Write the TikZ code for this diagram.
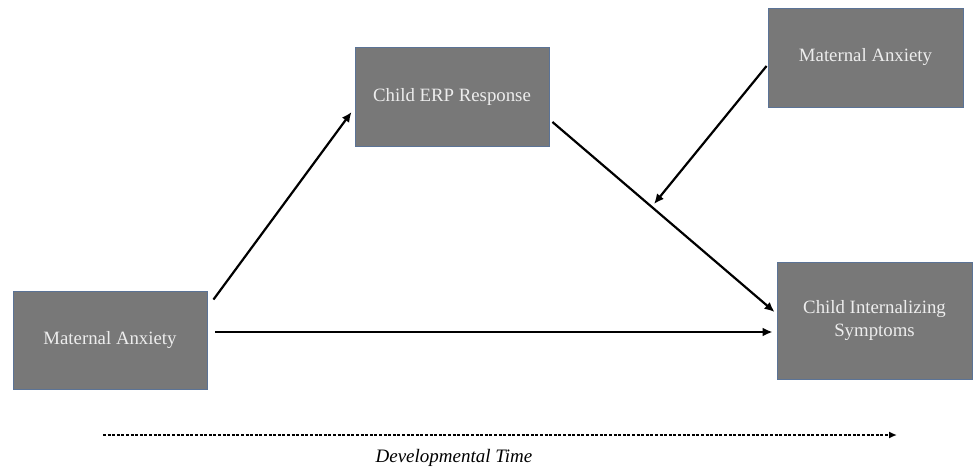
\documentclass[tikz,border=0pt]{standalone}
\usepackage{fontspec}
\setmainfont{Liberation Serif}
\usetikzlibrary{arrows.meta}
\definecolor{boxfill}{HTML}{787878}
\definecolor{boxline}{HTML}{5B7396}
\definecolor{boxtext}{HTML}{EDEDED}
\begin{document}
\begin{tikzpicture}[x=1pt,y=-1pt,
  box/.style={draw=boxline,line width=0.9pt,fill=boxfill,text=boxtext,
    minimum width=194pt,inner sep=0pt,align=center,font=\fontsize{18.8}{23}\selectfont},
  arr/.style={line width=2.2pt,-{Latex[length=10pt,width=9pt]}},
  timearr/.style={line width=1.8pt,dash pattern=on 3pt off 1.6pt,-{Latex[length=8pt,width=7pt]}}]
\useasboundingbox (0,0) rectangle (976,466);
\node[box,minimum height=98pt] (A) at (110,340) {Maternal Anxiety};
\node[box,minimum height=99pt] (B) at (452,96.5) {Child ERP Response};
\node[box,minimum width=195pt,minimum height=99pt] (C) at (865.5,57.5) {Maternal Anxiety};
\node[box,minimum width=195pt,minimum height=117pt] (D) at (874.5,320.5) {Child Internalizing\\Symptoms};
\coordinate (m) at (654,204);
\draw[arr] ([xshift=6pt,yshift=-9pt]A.north east) -- ([xshift=-3pt,yshift=-15.5pt]B.west);
\draw[arr] ([xshift=8pt,yshift=8pt]A.east) -- ([xshift=-4pt,yshift=-11.5pt]D.west);
\draw[arr] ([xshift=3pt,yshift=-25.5pt]B.east) -- ([xshift=-2pt,yshift=8.5pt]D.west);
\draw[arr] ([xshift=-1pt,yshift=-8.5pt]C.west) -- (m);
\coordinate (t0) at (103,435);
\coordinate (t1) at (897,435);
\draw[timearr] (t0) -- (t1);
\node[font=\itshape\fontsize{19}{22}\selectfont] (lab) at (454,458) {Developmental Time};
\end{tikzpicture}
\end{document}
